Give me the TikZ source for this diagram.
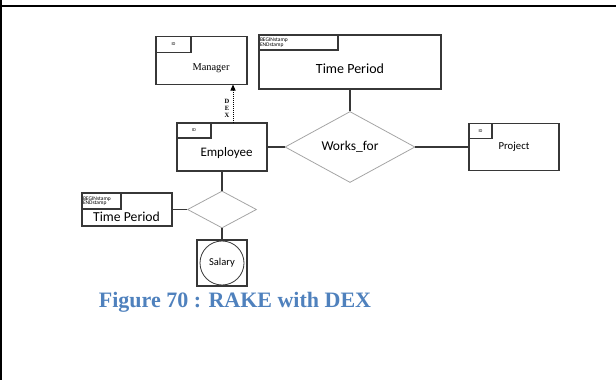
\documentclass[tikz,border=0pt]{standalone}
\usepackage{fontspec}
\setmainfont{Liberation Serif}
\newfontfamily\calib{Carlito}
\usetikzlibrary{arrows.meta,positioning,shapes.geometric}
\definecolor{capblue}{RGB}{79,129,189}
\definecolor{boxgray}{RGB}{55,55,55}
\definecolor{diagray}{RGB}{165,165,165}
\tikzset{
  ent/.style={rectangle,draw=boxgray,line width=1.3pt,inner sep=0pt},
  idb/.style={rectangle,draw=boxgray,line width=1.3pt,anchor=north west,
              inner sep=0pt,font=\calib\fontsize{4.5}{4.5}\selectfont},
  stb/.style={rectangle,draw=boxgray,line width=1.3pt,anchor=north west,
              inner sep=1pt,align=left,font=\calib\fontsize{5.5}{5.5}\selectfont},
  rel/.style={diamond,draw=diagray,line width=0.8pt,inner sep=0pt},
  lab/.style={font=\calib\fontsize{#1}{#1}\selectfont,inner sep=0pt},
  ln/.style={draw=boxgray,line width=1.2pt},
}

\begin{document}
\begin{tikzpicture}[x=1pt,y=-1pt]
    \useasboundingbox (0,0) rectangle (616,380);
    % page frame
    \draw[line width=2pt] (0,6) -- (616,6);
    \draw[line width=1.6pt] (0.8,0) -- (0.8,380);

    % entities
    \node[ent,minimum width=91,minimum height=48] (mgr) at (201.5,60.5) {};
    \node[idb,minimum width=35,minimum height=16] (mgrid) at (mgr.north west) {ID};
    \node[font=\fontsize{10.4}{11}\selectfont,inner sep=0pt] (mgrt) at (211,68) {Manager};

    \node[ent,minimum width=182,minimum height=54] (tp) at (350,62) {};
    \node[stb,text width=77,minimum height=15] (tpst) at (tp.north west)
      {BEGINstamp\\[-1pt]ENDstamp};
    \node[lab=14] (tpt) at (350,69) {Time Period};

    \node[ent,minimum width=90,minimum height=48] (emp) at (222,147) {};
    \node[idb,minimum width=34,minimum height=15] (empid) at (emp.north west) {ID};
    \node[lab=13] (empt) at (226.5,153) {Employee};

    \node[ent,minimum width=90,minimum height=47] (prj) at (514,147) {};
    \node[idb,minimum width=23,minimum height=15] (prjid) at (prj.north west) {ID};
    \node[lab=10.7] (prjt) at (514,147) {Project};

    \node[ent,minimum width=90,minimum height=33] (tps) at (127,209.5) {};
    \node[stb,text width=37,minimum height=16] (tpsst) at (tps.north west)
      {BEGINstamp\\[-1pt]ENDstamp};
    \node[lab=13.7] (tpst2) at (126.5,217) {Time Period};

    % weak attribute
    \node[ent,minimum width=50,minimum height=46] (sal) at (222,263) {};
    \node[circle,draw=boxgray,line width=0.8pt,minimum size=44,inner sep=0pt,
          font=\calib\fontsize{10.5}{11}\selectfont] (salc) at (sal.center) {Salary};

    % relationships
    \node[rel,minimum width=130,minimum height=71,font=\calib\fontsize{13.5}{14}\selectfont]
      (wf) at (350,147) {Works\_for};
    \node[rel,minimum width=69,minimum height=37] (sd) at (222,209.5) {};

    % connectors
    \draw[ln] (tp.south) -- (wf.north);
    \draw[ln] (wf.west) -- (emp.east);
    \draw[ln] (wf.east) -- (prj.west);
    \draw[ln] (emp.south) -- (sd.north);
    \draw[ln] (tps.east) -- (sd.west);
    \draw[ln] (sd.south) -- (sal.north);

    % DEX dependency
    \coordinate (dexa) at (233,123);
    \coordinate (dexb) at (233,84.5);
    \draw[densely dotted,line width=1pt,-{Triangle[length=6pt,width=5pt]}] (dexa) -- (dexb);
    \node[font=\bfseries\fontsize{6.5}{7}\selectfont,align=center,inner sep=0pt] (dext)
      at (227,108) {D\\E\\X};

    % caption
    \node[font=\bfseries\fontsize{22}{24}\selectfont,text=capblue,inner sep=0pt] (cap)
      at (235,302) {Figure 70 : RAKE with DEX};
  \end{tikzpicture}
\end{document}
